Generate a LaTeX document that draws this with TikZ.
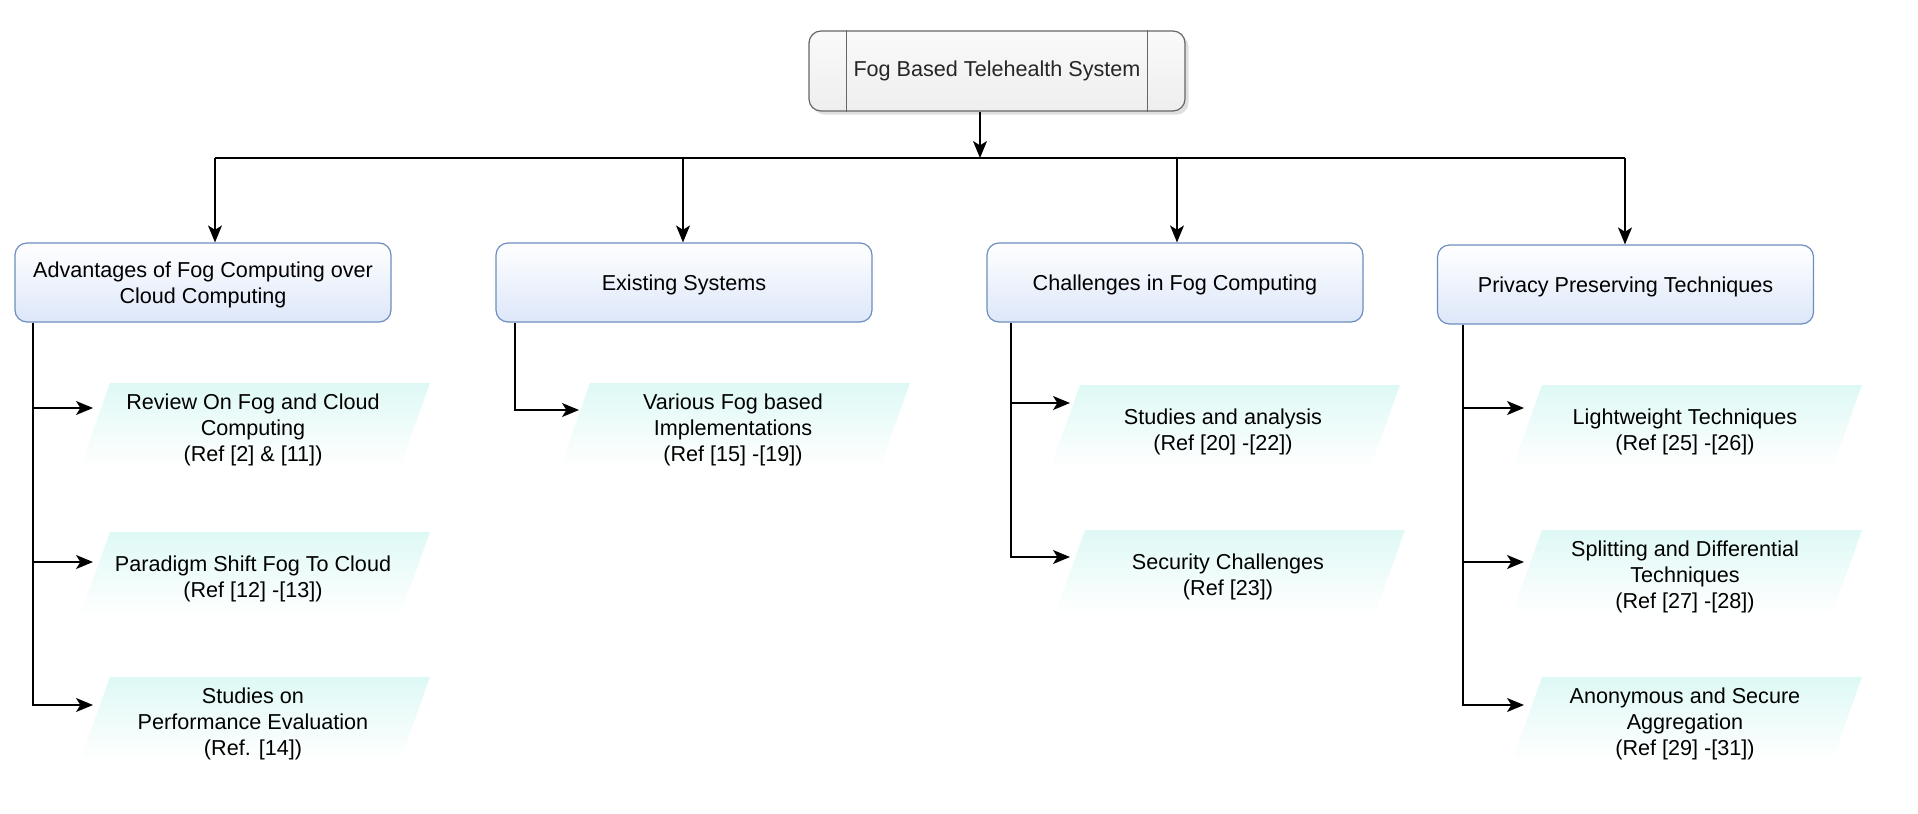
\documentclass[tikz,border=0pt]{standalone}
\usepackage{fontspec}
\setmainfont{Liberation Sans}
\usetikzlibrary{arrows.meta,shadows}
\definecolor{paraC}{RGB}{222,249,245}
\definecolor{catB}{RGB}{108,142,191}
\definecolor{catF}{RGB}{221,231,249}
\definecolor{topB}{RGB}{102,102,102}
\definecolor{topF}{RGB}{238,238,238}
\newcommand\fs{\fontsize{10.8}{13.2}\selectfont}
\newcommand\mypara[4]{%
  \shade[top color=paraC, bottom color=white] (#2,-#3) -- ++(320,0) -- ++(-30,-84) -- ++(-320,0) -- cycle;
  \node[paratext] (#1) at ({#2+143},{-#3-47}) {#4};
}
\tikzset{
  arr/.style={draw=black, line width=0.75pt, -{Stealth[length=8.5pt,width=7pt,inset=2.2pt]}},
  ln/.style={draw=black, line width=0.75pt},
  cat/.style={draw=catB, line width=0.6pt, rounded corners=6pt, minimum width=188pt,
    minimum height=39.5pt, top color=white, bottom color=catF, align=center, font=\fs, text=black,
    text depth=-1.5pt},
  topbox/.style={draw=topB, line width=0.6pt, rounded corners=6pt, minimum width=188pt,
    minimum height=40pt, top color=white!98!black, bottom color=topF, font=\fs, text=black!85,
    drop shadow={shadow xshift=1.8pt, shadow yshift=-1.8pt, fill=black!25}},
  topline/.style={draw=topB, line width=0.6pt},
  paratext/.style={align=center, font=\fs, text=black, inner sep=0pt}
}
\begin{document}
\begin{tikzpicture}[x=0.5pt,y=0.5pt]
\useasboundingbox (0,0) rectangle (1918,-814);

% top
\node[topbox] (top) at (997,-71) {Fog Based Telehealth System};
\draw[topline] ([xshift=19pt]top.north west) -- ([xshift=19pt]top.south west);
\draw[topline] ([xshift=-19pt]top.north east) -- ([xshift=-19pt]top.south east);

% categories
\node[cat] (c1) at (203,-282.5) {Advantages of Fog Computing over\\Cloud Computing};
\node[cat] (c2) at (684,-282.5) {Existing Systems};
\node[cat] (c3) at (1175,-282.5) {Challenges in Fog Computing};
\node[cat] (c4) at (1625.5,-284.5) {Privacy Preserving Techniques};

% bus
\coordinate (bus) at (980,-158);
\coordinate (b1) at (215,-158);
\coordinate (b2) at (683,-158);
\coordinate (b3) at (1177,-158);
\coordinate (b4) at (1625,-158);
\draw[arr] (top.south -| bus) -- (bus);
\draw[ln] (b1) -- (b4);
\draw[arr] (b1) -- (b1 |- c1.north);
\draw[arr] (b2) -- (b2 |- c2.north);
\draw[arr] (b3) -- (b3 |- c3.north);
\draw[arr] (b4) -- (b4 |- c4.north);

% parallelograms
\mypara{p1}{110}{383}{Review On Fog and Cloud\\Computing\\(Ref [2] \& [11])}
\mypara{p2}{110}{532}{Paradigm Shift Fog To Cloud\\(Ref [12] -[13])}
\mypara{p3}{110}{677}{Studies on\\Performance Evaluation\\(Ref. [14])}
\mypara{p4}{590}{383}{Various Fog based\\Implementations\\(Ref [15] -[19])}
\mypara{p5}{1080}{385}{Studies and analysis\\(Ref [20] -[22])}
\mypara{p6}{1085}{530}{Security Challenges\\(Ref [23])}
\mypara{p7}{1542}{385}{Lightweight Techniques\\(Ref [25] -[26])}
\mypara{p8}{1542}{530}{Splitting and Differential\\Techniques\\(Ref [27] -[28])}
\mypara{p9}{1542}{677}{Anonymous and Secure\\Aggregation\\(Ref [29] -[31])}

% entry points
\coordinate (e1) at (93,-408);
\coordinate (e2) at (93,-562);
\coordinate (e3) at (93,-705);
\coordinate (e4) at (579,-410);
\coordinate (e5) at (1070,-403);
\coordinate (e6) at (1070,-557);
\coordinate (e7) at (1524,-408);
\coordinate (e8) at (1524,-562);
\coordinate (e9) at (1524,-705);
\coordinate (v1) at (33,0);
\coordinate (v2) at (515,0);
\coordinate (v3) at (1011,0);
\coordinate (v4) at (1463,0);

% branches
\draw[arr] (v1 |- c1.south) |- (e3);
\draw[arr] (v1 |- e1) -- (e1);
\draw[arr] (v1 |- e2) -- (e2);
\draw[arr] (v2 |- c2.south) |- (e4);
\draw[arr] (v3 |- c3.south) |- (e6);
\draw[arr] (v3 |- e5) -- (e5);
\draw[arr] (v4 |- c4.south) |- (e9);
\draw[arr] (v4 |- e7) -- (e7);
\draw[arr] (v4 |- e8) -- (e8);
\end{tikzpicture}
\end{document}
